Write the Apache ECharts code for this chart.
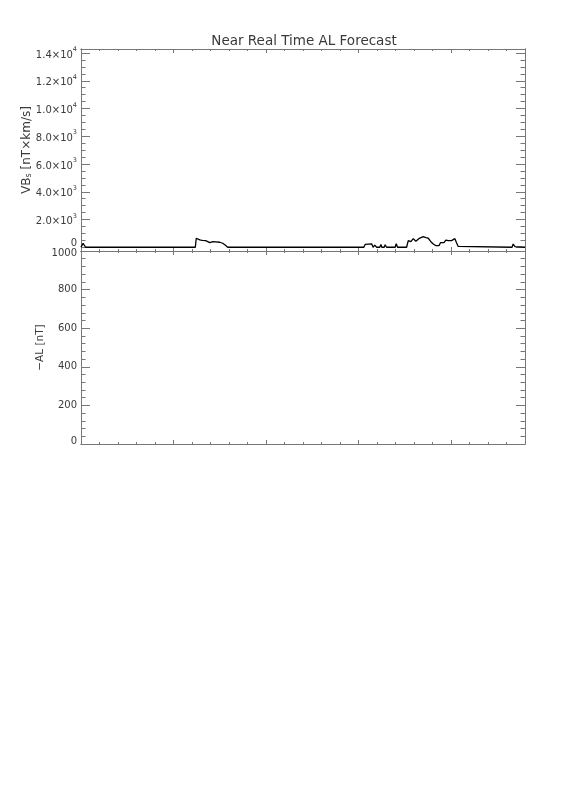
<!DOCTYPE html>
<html><head><meta charset="utf-8">
<script src="https://cdn.jsdelivr.net/npm/echarts@6/dist/echarts.min.js"></script>
<style>html,body{margin:0;padding:0;background:#fff}#c{width:576px;height:792px}</style>
</head><body><div id="c"></div>
<script>
// ---- data ----
const titleText = 'Near Real Time AL Forecast';
const topYName = '{n|VB}{sub|s}{n| [nT×km/s]}';
const botYName = '−AL [nT]';
const xMajorTicks = [0, 5, 10, 15, 20];
const xMinorTicks = [1, 2, 3, 4, 6, 7, 8, 9, 11, 12, 13, 14, 16, 17, 18, 19, 21, 22, 23];
const topMajorTicks = [0, 2000, 4000, 6000, 8000, 10000, 12000, 14000];
const topTickMant = ['0', '2.0×10', '4.0×10', '6.0×10', '8.0×10', '1.0×10', '1.2×10', '1.4×10'];
const topTickExp = ['', '3', '3', '3', '3', '4', '4', '4'];
const topMinorTicks = [500, 1000, 1500, 2500, 3000, 3500, 4500, 5000, 5500, 6500, 7000, 7500, 8500, 9000, 9500, 10500, 11000, 11500, 12500, 13000, 13500];
const botMajorTicks = [0, 200, 400, 600, 800, 1000];
const botTickLabels = ['0', '200', '400', '600', '800', '1000'];
const botMinorTicks = [40, 80, 120, 160, 240, 280, 320, 360, 440, 480, 520, 560, 640, 680, 720, 760, 840, 880, 920, 960];

// VBs time series (hours, nT*km/s)
const vbsHours = [0, 0.11, 0.25,
  6.18, 6.23, 6.31, 6.42, 6.55, 6.74, 6.96, 7.04, 7.13, 7.29, 7.50, 7.66, 7.79, 7.93,
  14.90, 14.98, 15.04,
  15.29, 15.36, 15.43, 15.52, 15.61, 15.71, 15.79, 15.88, 15.98,
  16.15, 16.21, 16.26, 16.39, 16.44, 16.52,
  16.98, 17.04, 17.11,
  17.60, 17.69, 17.78, 17.83, 17.90, 17.96, 18.05, 18.10, 18.17, 18.26, 18.36, 18.50, 18.64, 18.77, 18.90, 19.04, 19.17, 19.25,
  19.35, 19.44, 19.52, 19.62, 19.72, 19.85, 19.94, 20.03, 20.12, 20.21, 20.30, 20.39, 20.44,
  23.30, 23.36, 23.46, 23.51, 24];
const vbsValues = [0, 280, 0,
  0, 650, 620, 527, 500, 477, 332, 380, 404, 390, 361, 289, 166, 0,
  0, 110, 0,
  0, 200, 80, 230, 100, 250, 0, 150, 0,
  0, 200, 0, 0, 180, 0,
  0, 250, 0,
  0, 477, 361, 400, 340, 620, 527, 433, 340, 620, 722, 765, 700, 650, 420, 240, 120, 20,
  120, 340, 430, 330, 520, 480, 590, 480, 580, 620, 330, 60, 0,
  0, 230, 50, 0, 0];
const alHours = [];
const alValues = [];

// ---- chart ----
const FONT = 'DejaVu Sans';
const AX = '#777';
const TXT = '#3a3a3a';

function xAxis(grid, pos, ticks, len) {
  return {
    type: 'value', gridIndex: grid, position: pos, min: 0, max: 24,
    axisLine: { show: true, onZero: false, lineStyle: { color: AX, width: 1 } },
    axisTick: { show: true, inside: true, length: len, customValues: ticks, lineStyle: { color: AX, width: 1 } },
    axisLabel: { show: false }, splitLine: { show: false }
  };
}
function yAxis(grid, pos, min, max, ticks, len, extra) {
  return Object.assign({
    type: 'value', gridIndex: grid, position: pos, min: min, max: max,
    axisLine: { show: true, onZero: false, lineStyle: { color: AX, width: 1 } },
    axisTick: { show: true, inside: true, length: len, customValues: ticks, lineStyle: { color: AX, width: 1 } },
    axisLabel: { show: false }, splitLine: { show: false }
  }, extra || {});
}

const TOP_MIN = -270, TOP_MAX = 14290;

const option = {
  animation: false,
  backgroundColor: '#fff',
  textStyle: { fontFamily: FONT },
  title: {
    text: titleText, left: 299, top: 29, textAlign: 'center',
    textStyle: { fontFamily: FONT, fontSize: 13.5, fontWeight: 'normal', color: TXT }
  },
  grid: [
    { left: 81, top: 49, width: 444, height: 202, containLabel: false },
    { left: 81, top: 251, width: 444, height: 193, containLabel: false }
  ],
  xAxis: [
    xAxis(0, 'bottom', xMajorTicks, 4),
    xAxis(0, 'top', xMajorTicks, 4),
    xAxis(0, 'bottom', xMinorTicks, 2),
    xAxis(0, 'top', xMinorTicks, 2),
    xAxis(1, 'bottom', xMajorTicks, 4),
    xAxis(1, 'top', xMajorTicks, 4),
    xAxis(1, 'bottom', xMinorTicks, 2),
    xAxis(1, 'top', xMinorTicks, 2)
  ],
  yAxis: [
    yAxis(0, 'left', TOP_MIN, TOP_MAX, topMajorTicks, 9, {
      name: topYName, nameLocation: 'middle', nameRotate: 90, nameGap: 48, nameMoveOverlap: false,
      nameTextStyle: { rich: {
        n: { fontFamily: FONT, fontSize: 12, color: TXT },
        sub: { fontFamily: FONT, fontSize: 8, color: TXT, verticalAlign: 'bottom', padding: [5, 0, 0, 0] }
      } },
      axisLabel: {
        show: true, margin: 4, customValues: topMajorTicks,
        formatter: function (v) {
          const i = topMajorTicks.indexOf(v);
          if (i < 0) return '';
          if (v === 0) return '{z|0}';
          return topTickExp[i] ? '{b|' + topTickMant[i] + '}{s|' + topTickExp[i] + '}' : '{b|' + topTickMant[i] + '}';
        },
        rich: {
          b: { fontFamily: FONT, fontSize: 10, color: TXT, lineHeight: 14, verticalAlign: 'bottom' },
          s: { fontFamily: FONT, fontSize: 6.5, color: TXT, lineHeight: 14, verticalAlign: 'top' },
          z: { fontFamily: FONT, fontSize: 10, color: TXT, padding: [0, 0, 8, 0] }
        }
      }
    }),
    yAxis(0, 'right', TOP_MIN, TOP_MAX, topMajorTicks, 9),
    yAxis(0, 'left', TOP_MIN, TOP_MAX, topMinorTicks, 4.5),
    yAxis(0, 'right', TOP_MIN, TOP_MAX, topMinorTicks, 4.5),
    yAxis(1, 'left', 0, 1000, botMajorTicks, 9, {
      name: botYName, nameLocation: 'middle', nameRotate: 90, nameGap: 35, nameMoveOverlap: false,
      nameTextStyle: { fontFamily: FONT, fontSize: 10.5, color: TXT },
      axisLabel: {
        show: true, margin: 4, customValues: botMajorTicks,
        formatter: function (v) {
          const i = botMajorTicks.indexOf(v);
          if (i < 0) return '';
          if (v === 1000) return '{d|' + botTickLabels[i] + '}';
          if (v === 0) return '{u|' + botTickLabels[i] + '}';
          return '{m|' + botTickLabels[i] + '}';
        },
        rich: {
          m: { fontFamily: FONT, fontSize: 10, color: TXT },
          d: { fontFamily: FONT, fontSize: 10, color: TXT, padding: [4, 0, 0, 0] },
          u: { fontFamily: FONT, fontSize: 10, color: TXT, padding: [0, 0, 5, 0] }
        }
      }
    }),
    yAxis(1, 'right', 0, 1000, botMajorTicks, 9),
    yAxis(1, 'left', 0, 1000, botMinorTicks, 4.5),
    yAxis(1, 'right', 0, 1000, botMinorTicks, 4.5)
  ],
  series: [
    {
      type: 'line', xAxisIndex: 0, yAxisIndex: 0, showSymbol: false, clip: true,
      lineStyle: { color: '#000', width: 1.3 },
      data: vbsHours.map(function (h, i) { return [h, vbsValues[i]]; })
    },
    {
      type: 'line', xAxisIndex: 4, yAxisIndex: 4, showSymbol: false, clip: true,
      lineStyle: { color: '#000', width: 1.3 },
      data: alHours.map(function (h, i) { return [h, alValues[i]]; })
    }
  ]
};

const chart = echarts.init(document.getElementById('c'), null, { renderer: 'canvas' });
chart.setOption(option);
</script>
</body></html>
